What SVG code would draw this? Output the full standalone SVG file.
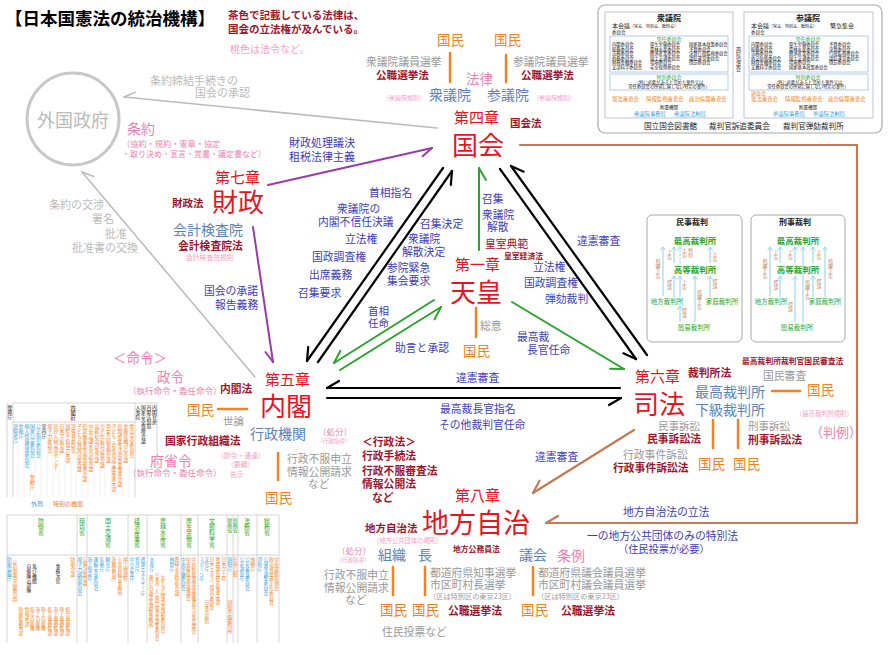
<svg xmlns="http://www.w3.org/2000/svg" width="890" height="655" viewBox="0 0 890 655">
<style>
text{font-family:"Noto Sans CJK JP","Noto Sans",sans-serif;}
.h{fill:#e8141e}
.law{fill:#a0142d;font-weight:bold}
.bl{fill:#3d3dbd}
.sb{fill:#5b82bb}
.pk{fill:#f27fb0}
.pl{fill:#f6a0c4}
.or{fill:#f58220}
.gy{fill:#999}
.lg{fill:#bbb}
.gr{fill:#2aa52a}
.k{fill:#222}
.br{fill:#c08060}
.cb{fill:#3aa0e0}
.v{writing-mode:vertical-rl}
.tiny{font-size:4.3px}
.ln{fill:none;stroke-linecap:round}
</style>
<defs>
<marker id="mk" viewBox="-14 -10 16 20" refX="0" refY="0" markerWidth="16" markerHeight="20" orient="auto" markerUnits="userSpaceOnUse"><path d="M0,0 L-12,7" stroke="#000" stroke-width="2.2" fill="none" stroke-linecap="round"/></marker>
<marker id="mg" viewBox="-14 -10 16 20" refX="0" refY="0" markerWidth="16" markerHeight="20" orient="auto" markerUnits="userSpaceOnUse"><path d="M0,0 L-12,7" stroke="#2aa52a" stroke-width="2" fill="none" stroke-linecap="round"/></marker>
<marker id="mgy" viewBox="-14 -10 16 20" refX="0" refY="0" markerWidth="16" markerHeight="20" orient="auto" markerUnits="userSpaceOnUse"><path d="M0,0 L-11,6" stroke="#bbb" stroke-width="1.5" fill="none" stroke-linecap="round"/></marker>
<marker id="mp" viewBox="-14 -10 16 20" refX="0" refY="0" markerWidth="16" markerHeight="20" orient="auto" markerUnits="userSpaceOnUse"><path d="M0,0 L-11,6" stroke="#9b3aa8" stroke-width="2" fill="none" stroke-linecap="round"/></marker>
<marker id="mb" viewBox="-14 -10 16 20" refX="0" refY="0" markerWidth="16" markerHeight="20" orient="auto" markerUnits="userSpaceOnUse"><path d="M0,0 L-12,7" stroke="#c47a55" stroke-width="2.2" fill="none" stroke-linecap="round"/></marker>
<marker id="mc" viewBox="-5 -4 6 8" refX="0" refY="0" markerWidth="6" markerHeight="8" orient="auto" markerUnits="userSpaceOnUse"><path d="M-3.5,-2.5 L0,0 L-3.5,2.5" stroke="#8fd0ee" stroke-width="0.9" fill="none"/></marker>
</defs>
<rect width="890" height="655" fill="#fff"/>

<!-- header -->
<g id="title">
<text x="5" y="25" font-size="17.5" font-weight="bold" fill="#000">【日本国憲法の統治機構】</text>
<text x="228" y="19" font-size="10.5" class="law">茶色で記載している法律は、</text>
<text x="228" y="33" font-size="10.5" class="law">国会の立法権が及んでいる。</text>
<text x="230" y="53" font-size="10" class="pl">桃色は法令など。</text>
</g>

<!-- connectors -->
<g id="connectors">
<g class="ln" stroke="#000" stroke-width="2.2">
<path d="M318,362 L452,171" marker-end="url(#mk)"/>
<path d="M443,168 L307,361" marker-end="url(#mk)"/>
<path d="M500,169 L636,359" marker-end="url(#mk)"/>
<path d="M647,355 L511,166" marker-end="url(#mk)"/>
<path d="M620,388 L327,388" marker-end="url(#mk)"/>
<path d="M327,398 L621,398" marker-end="url(#mk)"/>
</g>
<g class="ln" stroke="#2aa52a" stroke-width="2">
<path d="M479,250 L479,168" marker-end="url(#mg)"/>
<path d="M434,300 L334,363" marker-end="url(#mg)"/>
<path d="M340,370 L441,307" marker-end="url(#mg)"/>
<path d="M512,302 L624,369" marker-end="url(#mg)"/>
</g>
<g class="ln" stroke="#bbb" stroke-width="1.5">
<path d="M437,128 L124,97" marker-end="url(#mgy)"/>
<path d="M255,377 L82,172" marker-end="url(#mgy)"/>
</g>
<g class="ln" stroke="#9b3aa8" stroke-width="2">
<path d="M268,185 L432,148" marker-end="url(#mp)"/>
<path d="M253,227 L273,362" marker-end="url(#mp)"/>
</g>
<g class="ln" stroke="#c47a55" stroke-width="2.2">
<path d="M520,145 H857 V523 H546" marker-end="url(#mb)"/>
<path d="M634,430 L533,493" marker-end="url(#mb)"/>
</g>
<g class="ln" stroke="#f58220" stroke-width="2.5" stroke-linecap="butt">
<path d="M450,53 V82 M506,55 V82 M476,308 V337 M218,409 H247 M278,453 V480 M772,391 H800 M713,420 V448 M738,420 V448 M393,567 V595 M425,567 V595 M533,567 V595"/>
</g>
</g>

<!-- 外国政府 -->
<g id="foreign">
<circle cx="73" cy="119" r="46" fill="none" stroke="#c8c8c8" stroke-width="3"/>
<text x="73" y="127" font-size="18" class="lg" text-anchor="middle">外国政府</text>
<text x="150" y="85" font-size="11" class="lg">条約締結手続きの</text>
<text x="195" y="97" font-size="11" class="lg">国会の承認</text>
<text x="127" y="134" font-size="14" class="pk">条約</text>
<text x="122" y="147" font-size="8.2" class="pk">（協約・規約・憲章・協定</text>
<text x="122" y="157" font-size="8" class="pk">・取り決め・宣言・覚書・議定書など）</text>
<text x="49" y="209" font-size="11" class="lg">条約の交渉</text>
<text x="92" y="223" font-size="11" class="lg">署名</text>
<text x="105" y="238" font-size="11" class="lg">批准</text>
<text x="72" y="252" font-size="11" class="lg">批准書の交換</text>
</g>

<!-- 国会 -->
<g id="diet">
<text x="437" y="45" font-size="13.5" class="or">国民</text>
<text x="494" y="45" font-size="13.5" class="or">国民</text>
<text x="366" y="66" font-size="10.8" class="gy">衆議院議員選挙</text>
<text x="376" y="79" font-size="10.6" class="law">公職選挙法</text>
<text x="513" y="66" font-size="10.8" class="gy">参議院議員選挙</text>
<text x="521" y="79" font-size="10.6" class="law">公職選挙法</text>
<text x="466" y="84" font-size="13.5" class="pk">法律</text>
<text x="429" y="100" font-size="14" class="sb">衆議院</text>
<text x="487" y="100" font-size="14" class="sb">参議院</text>
<text x="383" y="100" font-size="6" class="pl">（衆議院規則）</text>
<text x="533" y="100" font-size="6" class="pl">（参議院規則）</text>
<text x="454" y="123" font-size="15" class="h">第四章</text>
<text x="510" y="127" font-size="10.5" class="law">国会法</text>
<text x="452" y="155" font-size="26" class="h">国会</text>
<text x="289" y="147" font-size="11" class="bl">財政処理議決</text>
<text x="289" y="161" font-size="11" class="bl">租税法律主義</text>
</g>

<!-- 国会 detail box -->
<g id="diet-box">
<rect x="598" y="5" width="284" height="128" rx="7" fill="#fff" stroke="#aaa" stroke-width="1.2"/>
<rect x="605" y="12" width="128" height="106" fill="none" stroke="#b9aed2" stroke-width="0.8"/>
<rect x="744" y="12" width="129" height="106" fill="none" stroke="#b9aed2" stroke-width="0.8"/>
<text x="669" y="21" font-size="8" font-weight="bold" class="k" text-anchor="middle">衆議院</text>
<text x="808" y="21" font-size="8" font-weight="bold" class="k" text-anchor="middle">参議院</text>
<text x="612" y="27.5" font-size="6" class="k">本会議<tspan font-size="4">（常会、特別会、臨時会）</tspan></text>
<text x="751" y="27.5" font-size="6" class="k">本会議<tspan font-size="4">（常会、特別会、臨時会）</tspan></text>
<text x="830" y="27.5" font-size="6" class="k">緊急集会</text>
<text x="612" y="34" font-size="4.5" class="k">委員会</text>
<text x="751" y="34" font-size="4.5" class="k">委員会</text>
<rect x="610" y="36" width="118" height="36" fill="none" stroke="#9cc3ea" stroke-width="0.8"/>
<rect x="749" y="36" width="119" height="36" fill="none" stroke="#9cc3ea" stroke-width="0.8"/>
<text x="669" y="41" font-size="5" class="gr" text-anchor="middle">常任委員会</text>
<text x="808" y="41" font-size="5" class="gr" text-anchor="middle">常任委員会</text>
<g class="tiny k">
<text x="612" y="46">内閣委員会</text><text x="612" y="50.5">総務委員会</text><text x="612" y="55">法務委員会</text><text x="612" y="59.5">外務委員会</text><text x="612" y="64">財務金融委員会</text><text x="612" y="68.5">文部科学委員会</text>
<text x="650" y="46">厚生労働委員会</text><text x="650" y="50.5">農林水産委員会</text><text x="650" y="55">経済産業委員会</text><text x="650" y="59.5">国土交通委員会</text><text x="650" y="64">環境委員会</text><text x="650" y="68.5">安全保障委員会</text>
<text x="689" y="46">国家基本政策委員会</text><text x="689" y="50.5">予算委員会</text><text x="689" y="55">決算行政監視委員会</text><text x="689" y="59.5">議院運営委員会</text><text x="689" y="64">懲罰委員会</text>
<text x="751" y="46">内閣委員会</text><text x="751" y="50.5">総務委員会</text><text x="751" y="55">法務委員会</text><text x="751" y="59.5">外交防衛委員会</text><text x="751" y="64">財政金融委員会</text><text x="751" y="68.5">文教科学委員会</text>
<text x="789" y="46">厚生労働委員会</text><text x="789" y="50.5">農林水産委員会</text><text x="789" y="55">経済産業委員会</text><text x="789" y="59.5">国土交通委員会</text><text x="789" y="64">環境委員会</text><text x="789" y="68.5">国家基本政策委員会</text>
<text x="829" y="46">予算委員会</text><text x="829" y="50.5">決算委員会</text><text x="829" y="55">行政監視委員会</text><text x="829" y="59.5">議院運営委員会</text><text x="829" y="64">懲罰委員会</text>
</g>
<rect x="610" y="74" width="118" height="16" fill="none" stroke="#9cc3ea" stroke-width="0.8"/>
<rect x="749" y="74" width="119" height="16" fill="none" stroke="#9cc3ea" stroke-width="0.8"/>
<text x="669" y="79" font-size="5" class="gr" text-anchor="middle">特別委員会</text>
<text x="808" y="79" font-size="5" class="gr" text-anchor="middle">特別委員会</text>
<g class="tiny k" text-anchor="middle">
<text x="669" y="83.5">（特に必要があると認めた案件又は</text>
<text x="669" y="88">常任委員会の所管に属しない特定の案件）</text>
<text x="808" y="83.5">（特に必要があると認めた案件又は</text>
<text x="808" y="88">常任委員会の所管に属しない特定の案件）</text>
</g>
<text x="751" y="94.5" font-size="5" class="or">調査会</text>
<g font-size="5.4" class="or">
<text x="612" y="101">憲法審査会</text><text x="646" y="101">情報監視審査会</text><text x="689" y="101">政治倫理審査会</text>
<text x="751" y="101">憲法審査会</text><text x="785" y="101">情報監視審査会</text><text x="828" y="101">政治倫理審査会</text>
</g>
<text x="669" y="109" font-size="4.5" class="k" text-anchor="middle">附置機関</text>
<text x="808" y="109" font-size="4.5" class="k" text-anchor="middle">附置機関</text>
<g font-size="5.3" class="cb">
<text x="634" y="115.5">衆議院事務局</text><text x="674" y="115.5">衆議院法制局</text>
<text x="773" y="115.5">参議院事務局</text><text x="813" y="115.5">参議院法制局</text>
</g>
<text x="738.5" y="47" font-size="5" class="k v">両院協議会</text>
<g font-size="7.6" class="k">
<text x="644" y="129">国立国会図書館</text><text x="709" y="129">裁判官訴追委員会</text><text x="783" y="129">裁判官弾劾裁判所</text>
</g>
</g>

<!-- 財政 -->
<g id="finance">
<text x="215" y="183" font-size="15" class="h">第七章</text>
<text x="172" y="207" font-size="10.5" class="law">財政法</text>
<text x="212" y="212" font-size="26" class="h">財政</text>
<text x="173" y="235" font-size="14" class="sb">会計検査院</text>
<text x="178" y="250" font-size="10.8" class="law">会計検査院法</text>
<text x="186" y="260" font-size="6.8" class="pl">会計検査院規則</text>
<text x="204" y="295" font-size="10.8" class="bl">国会の承諾</text>
<text x="215" y="309" font-size="10.8" class="bl">報告義務</text>
</g>

<!-- labels between 国会 and 内閣 -->
<g id="diet-cabinet-labels" font-size="10.8" class="bl">
<text x="369" y="197">首相指名</text>
<text x="337" y="213">衆議院の</text>
<text x="318" y="226">内閣不信任決議</text>
<text x="345" y="243">立法権</text>
<text x="312" y="261">国政調査権</text>
<text x="309" y="279">出席義務</text>
<text x="298" y="297">召集要求</text>
<text x="420" y="228">召集決定</text>
<text x="408" y="243">衆議院</text>
<text x="402" y="256">解散決定</text>
<text x="387" y="272">参院緊急</text>
<text x="387" y="285">集会要求</text>
<text x="368" y="315" font-size="10.5">首相</text>
<text x="368" y="327" font-size="10.5">任命</text>
<text x="395" y="352">助言と承認</text>
</g>

<!-- 天皇 -->
<g id="emperor">
<g font-size="10.8" class="bl">
<text x="482" y="203">召集</text>
<text x="482" y="219">衆議院</text>
<text x="487" y="231">解散</text>
</g>
<text x="485" y="248" font-size="10.8" class="law" style="font-weight:normal">皇室典範</text>
<text x="504" y="259" font-size="7.8" class="law">皇室経済法</text>
<text x="455" y="270" font-size="15" class="h">第一章</text>
<text x="450" y="302" font-size="26" class="h">天皇</text>
<text x="480" y="330" font-size="10.8" class="gy">総意</text>
<text x="463" y="356" font-size="13.5" class="or">国民</text>
</g>

<!-- labels between 国会 and 司法 -->
<g id="diet-court-labels" font-size="10.8" class="bl">
<text x="577" y="245">違憲審査</text>
<text x="533" y="271">立法権</text>
<text x="524" y="287">国政調査権</text>
<text x="545" y="303">弾劾裁判</text>
<text x="517" y="341">最高裁</text>
<text x="527" y="354">長官任命</text>
<text x="456" y="382">違憲審査</text>
<text x="440" y="413">最高裁長官指名</text>
<text x="439" y="429">その他裁判官任命</text>
<text x="535" y="461">違憲審査</text>
</g>

<!-- 内閣 -->
<g id="cabinet">
<text x="113" y="363" font-size="13.5" class="pk">＜命令＞</text>
<text x="157" y="382" font-size="13.5" class="pk">政令</text>
<text x="128" y="394" font-size="8.5" class="pk">（執行命令・委任命令）</text>
<text x="220" y="393" font-size="10.8" class="law">内閣法</text>
<text x="265" y="385" font-size="15" class="h">第五章</text>
<text x="260" y="416" font-size="26" class="h">内閣</text>
<text x="187" y="415" font-size="13.5" class="or">国民</text>
<text x="223" y="425" font-size="10.5" class="gy">世論</text>
<text x="250" y="439" font-size="14" class="sb">行政機関</text>
<text x="165" y="445" font-size="10.8" class="law">国家行政組織法</text>
<text x="318" y="435" font-size="8.5" class="pk">〔処分〕</text>
<text x="317" y="443" font-size="5.6" class="pl">（行政指導）</text>
<text x="150" y="466" font-size="14" class="pk">府省令</text>
<text x="128" y="476" font-size="8.5" class="pk">（執行命令・委任命令）</text>
<text x="217" y="458" font-size="6.8" class="pl">（訓令・通達）</text>
<text x="227" y="467" font-size="6.8" class="pl">（要綱）</text>
<text x="230" y="477" font-size="6.8" class="pl">告示</text>
<text x="287" y="463" font-size="10.8" class="gy">行政不服申立</text>
<text x="287" y="476" font-size="10.8" class="gy">情報公開請求</text>
<text x="308" y="488" font-size="10.8" class="gy">など</text>
<text x="265" y="503" font-size="13.5" class="or">国民</text>
<text x="362" y="446" font-size="10.8" class="law">＜行政法＞</text>
<text x="362" y="460" font-size="10.8" class="law">行政手続法</text>
<text x="362" y="475" font-size="10.8" class="law">行政不服審査法</text>
<text x="362" y="488" font-size="10.8" class="law">情報公開法</text>
<text x="372" y="502" font-size="10.8" class="law">など</text>
</g>

<!-- 司法 -->
<g id="judiciary">
<text x="742" y="364" font-size="7.8" class="law">最高裁判所裁判官国民審査法</text>
<text x="635" y="382" font-size="15" class="h">第六章</text>
<text x="688" y="377" font-size="10.8" class="law">裁判所法</text>
<text x="763" y="380" font-size="10.8" class="gy">国民審査</text>
<text x="633" y="414" font-size="26" class="h">司法</text>
<text x="695" y="397" font-size="14" class="sb">最高裁判所</text>
<text x="695" y="415" font-size="14" class="sb">下級裁判所</text>
<text x="807" y="395" font-size="13.5" class="or">国民</text>
<text x="796" y="416" font-size="6.3" class="pl">（最高裁判所規則）</text>
<text x="810" y="437" font-size="13" class="pk">（判例）</text>
<text x="658" y="430" font-size="10.5" class="gy">民事訴訟</text>
<text x="647" y="443" font-size="10.8" class="law">民事訴訟法</text>
<text x="748" y="430" font-size="10.5" class="gy">刑事訴訟</text>
<text x="748" y="444" font-size="10.8" class="law">刑事訴訟法</text>
<text x="623" y="459" font-size="10.8" class="gy">行政事件訴訟</text>
<text x="613" y="472" font-size="10.8" class="law">行政事件訴訟法</text>
<text x="698" y="469" font-size="13.5" class="or">国民</text>
<text x="733" y="469" font-size="13.5" class="or">国民</text>
</g>

<!-- court boxes -->
<g id="civil-trial">
<rect x="647" y="215" width="95" height="127" rx="5" fill="#fff" stroke="#aaa" stroke-width="1"/>
<text x="692" y="225" font-size="8" font-weight="bold" class="k" text-anchor="middle">民事裁判</text>
<text x="695" y="244" font-size="8.5" font-weight="bold" class="gr" text-anchor="middle">最高裁判所</text>
<text x="695" y="273" font-size="8.5" font-weight="bold" class="gr" text-anchor="middle">高等裁判所</text>
<text x="667" y="304" font-size="6.5" class="gr" text-anchor="middle">地方裁判所</text>
<text x="722" y="304" font-size="6.5" class="gr" text-anchor="middle">家庭裁判所</text>
<text x="694" y="330" font-size="6.5" class="gr" text-anchor="middle">簡易裁判所</text>
<g stroke="#8fd0ee" stroke-width="1" fill="none">
<path d="M663,296 V247" marker-end="url(#mc)"/>
<path d="M674,263 V247" marker-end="url(#mc)"/>
<path d="M680,263 V247" stroke-dasharray="2,1.5" marker-end="url(#mc)"/>
<path d="M710,263 V247" marker-end="url(#mc)"/>
<path d="M674,297 V276" marker-end="url(#mc)"/>
<path d="M680,297 V276" marker-end="url(#mc)"/>
<path d="M695,322 V276" marker-end="url(#mc)"/>
<path d="M710,297 V276" marker-end="url(#mc)"/>
<path d="M680,322 V306" marker-end="url(#mc)"/>
</g>
<g font-size="5" class="br v">
<text x="658" y="259">飛躍上告</text>
<text x="669.5" y="250">上告</text>
<text x="690.5" y="248">特別</text>
<text x="684.5" y="248">上告</text>
<text x="715" y="252">上告</text>
<text x="669.5" y="280">控訴</text>
<text x="684.5" y="280">上告</text>
<text x="699.5" y="290">飛躍上告</text>
<text x="715" y="279">控訴</text>
<text x="684.5" y="308">控訴</text>
</g>
</g>
<g id="criminal-trial">
<rect x="751" y="215" width="94" height="127" rx="5" fill="#fff" stroke="#aaa" stroke-width="1"/>
<text x="795" y="225" font-size="8" font-weight="bold" class="k" text-anchor="middle">刑事裁判</text>
<text x="798" y="244" font-size="8.5" font-weight="bold" class="gr" text-anchor="middle">最高裁判所</text>
<text x="798" y="273" font-size="8.5" font-weight="bold" class="gr" text-anchor="middle">高等裁判所</text>
<text x="771" y="304" font-size="6.5" class="gr" text-anchor="middle">地方裁判所</text>
<text x="825" y="304" font-size="6.5" class="gr" text-anchor="middle">家庭裁判所</text>
<text x="797" y="330" font-size="6.5" class="gr" text-anchor="middle">簡易裁判所</text>
<g stroke="#8fd0ee" stroke-width="1" fill="none">
<path d="M770,296 V247" marker-end="url(#mc)"/>
<path d="M780,263 V247" marker-end="url(#mc)"/>
<path d="M795,263 V247" marker-end="url(#mc)"/>
<path d="M813,263 V247" marker-end="url(#mc)"/>
<path d="M780,297 V276" marker-end="url(#mc)"/>
<path d="M795,322 V276" marker-end="url(#mc)"/>
<path d="M803,322 V247" marker-end="url(#mc)"/>
<path d="M813,297 V276" marker-end="url(#mc)"/>
<path d="M825,297 V247" marker-end="url(#mc)"/>
</g>
<g font-size="5" class="br v">
<text x="765" y="259">飛躍上告</text>
<text x="776" y="250">上告</text>
<text x="790.5" y="250">上告</text>
<text x="819" y="250">上告</text>
<text x="776" y="280">控訴</text>
<text x="790.5" y="302">控訴</text>
<text x="807.5" y="280">飛躍上告</text>
<text x="819" y="279">控訴</text>
<text x="830.5" y="259">飛躍上告</text>
</g>
</g>

<!-- 地方自治 -->
<g id="local">
<text x="455" y="501" font-size="15" class="h">第八章</text>
<text x="422" y="533" font-size="27" class="h">地方自治</text>
<text x="365" y="532" font-size="10.5" class="law">地方自治法</text>
<text x="373" y="543" font-size="6.3" class="pl">（地方公共団体の規則）</text>
<text x="337" y="554" font-size="8.5" class="pk">〔処分〕</text>
<text x="336" y="562" font-size="5.6" class="pl">（行政指導）</text>
<text x="378" y="560" font-size="14" class="sb">組織</text>
<text x="418" y="560" font-size="14" class="sb">長</text>
<text x="453" y="552" font-size="7.8" class="law">地方公務員法</text>
<text x="519" y="560" font-size="14" class="sb">議会</text>
<text x="557" y="561" font-size="14" class="pk">条例</text>
<text x="324" y="579" font-size="10.8" class="gy">行政不服申立</text>
<text x="324" y="592" font-size="10.8" class="gy">情報公開請求</text>
<text x="345" y="604" font-size="10.8" class="gy">など</text>
<text x="430" y="577" font-size="10.8" class="gy">都道府県知事選挙</text>
<text x="430" y="589" font-size="10.8" class="gy">市区町村長選挙</text>
<text x="429" y="599" font-size="7.2" class="gy">（区は特別区の東京23区）</text>
<text x="538" y="577" font-size="10.8" class="gy">都道府県議会議員選挙</text>
<text x="538" y="589" font-size="10.8" class="gy">市区町村議会議員選挙</text>
<text x="537" y="599" font-size="7.2" class="gy">（区は特別区の東京23区）</text>
<text x="380" y="615" font-size="13.5" class="or">国民</text>
<text x="412" y="615" font-size="13.5" class="or">国民</text>
<text x="448" y="615" font-size="10.8" class="law">公職選挙法</text>
<text x="521" y="615" font-size="13.5" class="or">国民</text>
<text x="561" y="615" font-size="10.8" class="law">公職選挙法</text>
<text x="382" y="636" font-size="10.8" class="gy">住民投票など</text>
<text x="623" y="516" font-size="10.8" class="bl">地方自治法の立法</text>
<text x="587" y="540" font-size="10.8" class="bl">一の地方公共団体のみの特別法</text>
<text x="618" y="553" font-size="10.2" class="bl">（住民投票が必要）</text>
</g>

<!-- 内閣 org chart -->
<g id="cabinet-chart">
<g stroke="#ccc" stroke-width="0.8" fill="none">
<path d="M7,403 V497 M13,403 V497 M135,403 V497 M157,403 V470 M13,403 H135 M135,403 H157 M13,422 H135"/>
<path d="M18,422 V497 M24,422 V497 M30,422 V497 M35,422 V497 M41,422 V497 M47,422 V497 M53,422 V497 M59,422 V497 M65,422 V497 M71,422 V497 M76,422 V497 M82,422 V497 M88,422 V497 M94,422 V497 M100,422 V497 M105,422 V497 M111,422 V497 M117,422 V497 M123,422 V497 M129,422 V497" stroke="#eee"/>
</g>
<text x="10" y="405" font-size="4.8" class="k v">復興庁</text>
<text x="73" y="405" font-size="5.2" class="k v">内閣府</text>
<g font-size="4.8" class="k v">
<text x="138" y="405">人事院</text>
<text x="143.5" y="405">国家安全保障会議</text>
<text x="149" y="405">内閣法制局</text>
<text x="154.5" y="405">内閣官房</text>
</g>
<g font-size="4.8" class="cb v">
<text x="15.5" y="424">消費者庁</text>
<text x="21" y="424">金融庁</text>
<text x="27" y="424">個人情報保護委員会</text>
<text x="32.5" y="424">国家公安委員会</text>
<text x="38.5" y="424">公正取引委員会</text>
</g>
<text x="44" y="424" font-size="4.8" class="k v">宮内庁</text>
<text x="32.5" y="475" font-size="4.8" class="or v">警察庁</text>
<g font-size="4.8" class="or v">
<text x="50" y="424">原子力委員会</text>
<text x="56" y="424">官民人材交流センター</text>
<text x="62" y="424">日本学術会議</text>
<text x="68" y="424">国際平和協力本部</text>
<text x="73.5" y="424">消費者委員会</text>
<text x="79.5" y="424">子どもの貧困対策会議</text>
<text x="85" y="424">犯罪被害者等施策推進会議</text>
<text x="91" y="424">中央交通安全対策会議</text>
<text x="97" y="424">高齢社会対策会議</text>
<text x="102.5" y="424">少子化社会対策会議</text>
<text x="108.5" y="424">男女共同参画会議</text>
<text x="114" y="424">子ども・若者育成支援推進本部</text>
<text x="120" y="424">民間資金等活用事業推進会議</text>
<text x="126" y="424">金融危機対応会議</text>
<text x="132" y="424">食品安全委員会</text>
</g>
<text x="31" y="506" font-size="6" class="cb">外局</text>
<text x="53" y="506" font-size="6" class="or">特別の機関</text>
</g>

<!-- 府省 chart -->
<g id="ministry-chart">
<g stroke="#ccc" stroke-width="0.8" fill="none">
<path d="M7,515 H279 M7,515 V643 M77,515 V643 M87,515 V643 M128,515 V643 M147,515 V643 M181,515 V643 M198,515 V643 M227,515 V643 M233,515 V643 M238,515 V643 M257,515 V643 M279,515 V643 M7,555 H279"/>
</g>
<g font-size="6" class="gr v">
<text x="41" y="518">防衛省</text>
<text x="82" y="518">環境省</text>
<text x="108" y="518">国土交通省</text>
<text x="137" y="518">経済産業省</text>
<text x="163" y="518">農林水産省</text>
<text x="189" y="518">厚生労働省</text>
<text x="212" y="518">文部科学省</text>
<text x="230" y="518" font-size="4.8">財務省</text>
<text x="235.5" y="518" font-size="4.8">外務省</text>
<text x="247" y="518">法務省</text>
<text x="267" y="518">総務省</text>
</g>
<g font-size="4.8" class="cb v">
<text x="9.5" y="557">防衛装備庁</text>
<text x="80" y="557">原子力規制委員会</text>
<text x="90" y="557">海上保安庁</text>
<text x="96" y="557">運輸安全委員会</text>
<text x="102" y="557">気象庁</text>
<text x="108" y="557">観光庁</text>
<text x="132" y="557">中小企業庁</text>
<text x="137.5" y="557">特許庁</text>
<text x="143" y="557">資源エネルギー庁</text>
<text x="152" y="557">水産庁</text>
<text x="172" y="557">林野庁</text>
<text x="183.5" y="557">中央労働委員会</text>
<text x="202" y="557">スポーツ庁</text>
<text x="207" y="557">文化庁</text>
<text x="230" y="557">国税庁</text>
<text x="242" y="557">公安調査庁</text>
<text x="247.5" y="557">公安審査委員会</text>
<text x="260" y="557">消防庁</text>
<text x="266" y="557">公害等調整委員会</text>
</g>
<g font-size="4.8" class="or v">
<text x="15" y="557">〔外国軍用品審判所〕</text>
<text x="73" y="557">防衛会議</text>
<text x="21" y="607">防衛監察本部</text>
<text x="27" y="607">情報本部</text>
<text x="32.5" y="607">航空自衛隊</text>
<text x="38" y="607">海上自衛隊</text>
<text x="43.5" y="607">陸上自衛隊</text>
<text x="50" y="607">航空幕僚監部</text>
<text x="56" y="607">海上幕僚監部</text>
<text x="62" y="607">陸上幕僚監部</text>
<text x="68" y="607">統合幕僚監部</text>
<text x="85" y="557">公害対策会議</text>
<text x="114" y="557">海難審判所</text>
<text x="120" y="557">小笠原総合事務所</text>
<text x="125.5" y="557">国土地理院</text>
<text x="151" y="575">瀬戸内海漁業調整事務所</text>
<text x="157" y="573" font-size="4.2">日本海・九州西広域漁業調整委員会</text>
<text x="163" y="575">太平洋広域漁業調整委員会</text>
<text x="177" y="557">農林水産技術会議</text>
<text x="188.5" y="557">中央最低賃金審議会</text>
<text x="194" y="557">中央駐留軍関係離職者等対策協議会</text>
<text x="212" y="557">日本ユネスコ国内委員会</text>
<text x="218" y="557">地震調査研究推進本部</text>
<text x="224" y="557">日本学士院</text>
<text x="207" y="600">日本芸術院</text>
<text x="230" y="600">国税不服審判所</text>
<text x="235.5" y="557">在外公館</text>
<text x="253" y="557">検察庁</text>
<text x="271.5" y="557">政治資金適正化委員会</text>
<text x="276.5" y="557">中央選挙管理会</text>
</g>
<g font-size="4.8" class="k v">
<text x="29" y="564">自衛隊の部隊</text>
<text x="34.5" y="564">及び機関</text>
<text x="58" y="564">事務次官</text>
</g>
</g>
</svg>
